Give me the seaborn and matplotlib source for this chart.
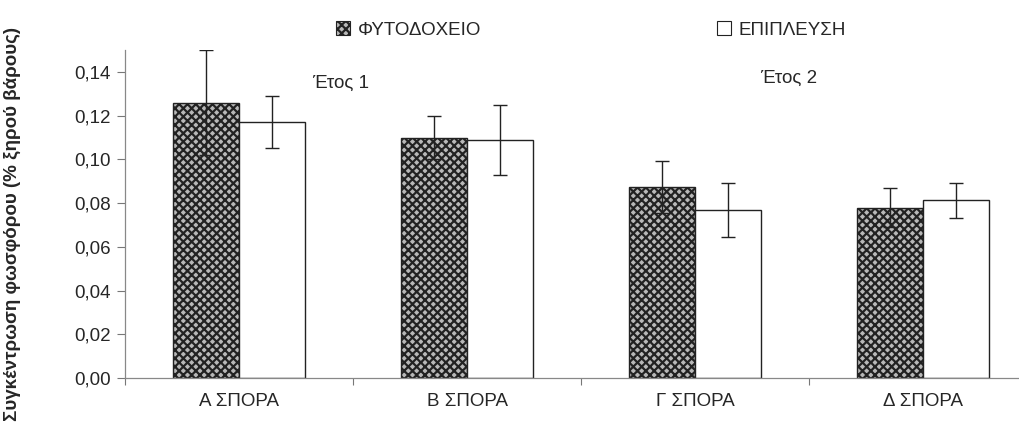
import numpy as np
import pandas as pd
import matplotlib
matplotlib.use('Agg')
import matplotlib.pyplot as plt
import seaborn as sns
from matplotlib.ticker import FuncFormatter, FixedLocator
from matplotlib.patches import Patch

# Δεδομένα
categories = ['Α ΣΠΟΡΑ', 'Β ΣΠΟΡΑ', 'Γ ΣΠΟΡΑ', 'Δ ΣΠΟΡΑ']
methods = ['ΦΥΤΟΔΟΧΕΙΟ', 'ΕΠΙΠΛΕΥΣΗ']
fyto_vals = [0.126, 0.110, 0.0875, 0.078]
fyto_err = [0.024, 0.010, 0.012, 0.009]
epi_vals = [0.117, 0.109, 0.0768, 0.0814]
epi_err = [0.012, 0.016, 0.0125, 0.008]
year_labels = ['Έτος 1', 'Έτος 2']

df = pd.DataFrame({
    'spora': categories * 2,
    'method': [methods[0]] * 4 + [methods[1]] * 4,
    'value': fyto_vals + epi_vals,
    'err': fyto_err + epi_err,
})

sns.set_style('white')
plt.rcParams['font.family'] = ['Liberation Sans', 'DejaVu Sans']
plt.rcParams['hatch.linewidth'] = 1.6
plt.rcParams['hatch.color'] = '#3a3a3a'

fig = plt.figure(figsize=(10.2, 4.4), dpi=100)
ax = fig.add_axes([0.1225, 0.141, 0.8775, 0.745])

sns.barplot(data=df, x='spora', y='value', hue='method', order=categories,
            hue_order=methods, palette=['#b8b8b8', 'white'], width=0.58,
            edgecolor='#222222', linewidth=1.0, errorbar=None, legend=False, ax=ax)

# Διαγράμμιση για το φυτοδοχείο
bars = ax.patches[:8]
for p in bars[:4]:
    p.set_hatch('xxxx')

# Ράβδοι σφάλματος
for i, p in enumerate(bars):
    row = df.iloc[i]
    xc = p.get_x() + p.get_width() / 2
    ax.errorbar(xc, row['value'], yerr=row['err'], fmt='none', ecolor='#222222',
                elinewidth=1.0, capsize=4.8, capthick=1.0, zorder=5)

ax.set_ylim(0, 0.15)
ax.set_xlim(-0.5, 3.425)
ax.set_yticks(np.arange(0, 0.141, 0.02))
ax.yaxis.set_major_formatter(FuncFormatter(lambda v, pos: f'{v:.2f}'.replace('.', ',')))
ax.tick_params(axis='y', labelsize=13.5, length=6, width=0.8, color='#777777', left=True, pad=4)
ax.tick_params(axis='x', labelsize=13.5, length=0, pad=11)
ax.xaxis.set_minor_locator(FixedLocator([-0.5, 0.5, 1.5, 2.5]))
ax.tick_params(axis='x', which='minor', bottom=True, length=5, width=0.8, color='#777777')

for s in ['top', 'right']:
    ax.spines[s].set_visible(False)
for s in ['left', 'bottom']:
    ax.spines[s].set_color('#888888')
    ax.spines[s].set_linewidth(0.9)

ax.set_xlabel('')
ax.set_ylabel('Συγκέντρωση φωσφόρου (% ξηρού βάρους)', fontsize=13.5, fontweight='bold')
ax.yaxis.set_label_coords(-0.116, 0.47)

ax.text(0.447, 0.135, year_labels[0], fontsize=13.5, ha='center', va='center')
ax.text(2.41, 0.137, year_labels[1], fontsize=13.5, ha='center', va='center')

handles = [Patch(facecolor='#b8b8b8', edgecolor='#222222', hatch='xxxx', linewidth=0.8),
           Patch(facecolor='white', edgecolor='#222222', linewidth=0.8)]
fig.legend(handles, methods, loc='center left', bbox_to_anchor=(0.313, 0.932), ncol=2,
           frameon=False, fontsize=13.5, handlelength=0.75, handleheight=0.75,
           handletextpad=0.4, columnspacing=12.6)

fig.savefig('out.png', dpi=100)
